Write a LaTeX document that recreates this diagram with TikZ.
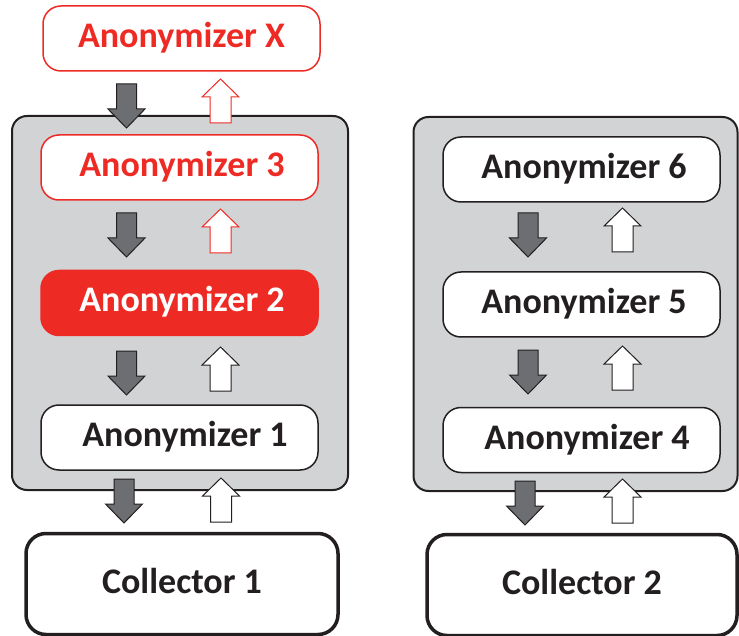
\documentclass[tikz,border=0pt]{standalone}
\usepackage{fontspec}
\setmainfont{Carlito}
\definecolor{ared}{HTML}{EE2A24}
\definecolor{txt}{HTML}{231F20}
\definecolor{grp}{HTML}{D1D3D4}
\definecolor{arrg}{HTML}{6D6E71}
\newcommand\rsh[1]{\hspace*{#1pt}}
\tikzset{
  group/.style={draw=txt, line width=2pt, fill=grp, rounded corners=15pt},
  anon/.style={draw=txt, line width=1.5pt, fill=white, rounded corners=18pt,
    minimum width=277pt, minimum height=65pt, inner sep=0pt,
    font=\bfseries\fontsize{36}{40}\selectfont, text=txt,
    text height=23pt, text depth=5pt},
  redline/.style={anon, draw=ared, text=ared},
  redfill/.style={anon, draw=ared, fill=ared, text=white},
  coll/.style={anon, line width=3.5pt, rounded corners=20pt, minimum height=101pt},
  darrowstyle/.style={draw=txt, line width=1pt, fill=arrg, line join=miter},
  uarrowstyle/.style={draw=txt, line width=1pt, fill=white, line join=miter},
  pics/darr/.style={code={\draw[darrowstyle,#1] (-10,0) -- (10,0) -- (10,25) -- (18.5,25) -- (0,44) -- (-18.5,25) -- (-10,25) -- cycle;}},
  pics/darr/.default={},
  pics/uarr/.style={code={\draw[uarrowstyle,#1] (0,0) -- (18.5,18) -- (10.5,18) -- (10.5,44) -- (-10.5,44) -- (-10.5,18) -- (-18.5,18) -- cycle;}},
  pics/uarr/.default={}
}
\begin{document}
\begin{tikzpicture}[x=1pt,y=-1pt]
\useasboundingbox (0,0) rectangle (739,636);
% groups
\node[group, minimum width=336pt, minimum height=374pt] (g1) at (180,303) {};
\node[group, minimum width=324pt, minimum height=374pt] (g2) at (575.5,304) {};
% left column
\node[redline] (ax) at (181.5,38.5) {Anonymizer X};
\node[redline] (a3) at (179.5,167.5) {\rsh{5}Anonymizer 3};
\node[redfill] (a2) at (179.5,303) {\rsh{5}Anonymizer 2};
\node[anon] (a1) at (179.5,437.5) {\rsh{11}Anonymizer 1};
\node[coll, minimum width=312pt] (c1) at (182,584) {Collector 1};
% right column
\node[anon] (a6) at (581.5,169.5) {\rsh{5}Anonymizer 6};
\node[anon] (a5) at (581.5,304.5) {\rsh{5}Anonymizer 5};
\node[anon] (a4) at (581.5,440) {\rsh{11}Anonymizer 4};
\node[coll, minimum width=310pt] (c2) at (582,585) {Collector 2};
% arrows left
\pic at (126.5,84) {darr};
\pic at (220.5,79) {uarr={draw=ared}};
\pic at (126.5,213) {darr};
\pic at (220.5,209) {uarr={draw=ared}};
\pic at (126.5,351) {darr};
\pic at (220.5,347) {uarr};
\pic at (124,479) {darr};
\pic at (221,478) {uarr};
% arrows right
\pic at (528,213) {darr};
\pic at (622.5,208) {uarr};
\pic at (528,350) {darr};
\pic at (622.5,346) {uarr};
\pic at (525,481) {darr};
\pic at (622.5,479) {uarr};
\end{tikzpicture}
\end{document}
